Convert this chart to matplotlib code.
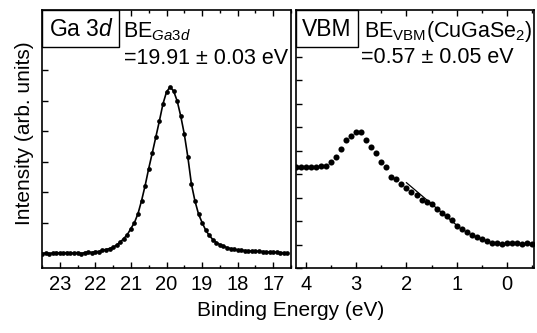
import matplotlib
matplotlib.use("Agg")
import matplotlib.pyplot as plt
from matplotlib.ticker import MultipleLocator
from matplotlib.patches import Rectangle

plt.rcParams['font.family'] = ['Liberation Sans', 'DejaVu Sans']
plt.rcParams['mathtext.fontset'] = 'custom'
plt.rcParams['mathtext.rm'] = 'Liberation Sans'
plt.rcParams['mathtext.it'] = 'Liberation Sans:italic'
plt.rcParams['mathtext.bf'] = 'Liberation Sans:bold'

# ---- Ga 3d core level (binding energy in eV, intensity arb. units) ----
ga_energy = [23.5, 23.4, 23.3, 23.2, 23.1, 23.0, 22.9, 22.8, 22.7, 22.6,
             22.5, 22.4, 22.3, 22.2, 22.1, 22.0, 21.9, 21.8, 21.7, 21.6,
             21.5, 21.4, 21.3, 21.2, 21.1, 21.0, 20.9, 20.8, 20.7, 20.6,
             20.5, 20.4, 20.3, 20.2, 20.1, 20.0, 19.9, 19.8, 19.7, 19.6,
             19.5, 19.4, 19.3, 19.2, 19.1, 19.0, 18.9, 18.8, 18.7, 18.6,
             18.5, 18.4, 18.3, 18.2, 18.1, 18.0, 17.9, 17.8, 17.7, 17.6,
             17.5, 17.4, 17.3, 17.2, 17.1, 17.0, 16.9, 16.8, 16.7, 16.6]
ga_intensity = [-0.5, 0.0, -0.5, 0.0, 0.5, 0.0, 0.0, 0.5, 0.0, 0.0,
                0.5, -0.5, 0.5, 1.0, 0.5, 1.5, 1.5, 3.0, 3.5, 4.5,
                5.7, 8.0, 11.0, 14.5, 18.5, 24.5, 30.5, 39.5, 52.5, 67.5,
                84.5, 100.0, 116.0, 132.0, 149.0, 161.0, 166.0, 162.0, 152.0, 137.0,
                119.0, 96.0, 69.0, 52.0, 39.0, 30.5, 23.0, 17.7, 13.5, 10.5,
                8.5, 6.8, 5.5, 4.5, 3.7, 3.0, 2.7, 2.5, 2.2, 2.0,
                2.0, 1.7, 1.5, 1.2, 1.0, 0.8, 0.7, 0.5, 0.2, 0.0]

# ---- Valence band maximum ----
vb_energy = [4.2, 4.1, 4.0, 3.9, 3.8, 3.7, 3.6, 3.5, 3.4, 3.3,
             3.2, 3.1, 3.0, 2.9, 2.8, 2.7, 2.6, 2.5, 2.4, 2.3,
             2.2, 2.1, 2.0, 1.9, 1.8, 1.7, 1.6, 1.5, 1.4, 1.3,
             1.2, 1.1, 1.0, 0.9, 0.8, 0.7, 0.6, 0.5, 0.4, 0.3,
             0.2, 0.1, 0.0, -0.1, -0.2, -0.3, -0.4, -0.5]
vb_intensity = [77.2, 77.8, 77.2, 77.5, 77.2, 78.5, 78.8, 82.8, 87.8, 95.2,
                104.5, 108.5, 112.2, 112.2, 104.5, 97.2, 91.2, 82.5, 77.2, 67.2,
                65.2, 60.5, 56.2, 52.2, 49.2, 44.5, 42.8, 40.2, 35.2, 31.2,
                28.5, 24.5, 18.5, 15.8, 12.2, 9.5, 7.2, 5.2, 3.5, 1.8,
                1.5, 0.8, 1.8, 1.8, 1.2, 0.5, 1.2, 0.2]
# linear extrapolation of the leading edge
vb_fit_energy = [2.0, 1.0]
vb_fit_intensity = [61.8, 19.3]

ga_xticks = [23, 22, 21, 20, 19, 18, 17]
vb_xticks = [4, 3, 2, 1, 0]

W, H = 537, 333
fig = plt.figure(figsize=(W / 100, H / 100), dpi=100)

def fx(px):
    return px / W

def fy(py):
    return 1 - py / H

ax1 = fig.add_axes([fx(42), fy(268), fx(291) - fx(42), fy(10) - fy(268)])
ax2 = fig.add_axes([fx(296), fy(268), fx(534) - fx(296), fy(10) - fy(268)])

ax1.plot(ga_energy, ga_intensity, color='black', lw=1.2, marker='o',
         markersize=3.4, markeredgewidth=0)
ax2.plot(vb_energy, vb_intensity, linestyle='none', color='black', marker='o',
         markersize=4.4, markeredgewidth=0)
ax2.plot(vb_fit_energy, vb_fit_intensity, color='black', lw=0.9)

ax1.set_xlim(23.5, 16.5)
ax1.set_ylim(-15, 243)
ax2.set_xlim(4.2, -0.54)
ax2.set_ylim(-23.5, 234.5)

ax1.set_xticks(ga_xticks)
ax2.set_xticks(vb_xticks)
ax1.yaxis.set_major_locator(MultipleLocator(30.5))
ax2.yaxis.set_major_locator(MultipleLocator(23.5))
for ax in (ax1, ax2):
    ax.xaxis.set_minor_locator(MultipleLocator(0.5))
    ax.tick_params(which='both', direction='in', top=True, right=False,
                   labelleft=False, width=1.0)
    ax.tick_params(which='major', length=4.4, labelsize=14.5, pad=5)
    ax.tick_params(which='minor', length=2.3)
    for s in ax.spines.values():
        s.set_linewidth(1.2)

# label boxes
ax1.add_patch(Rectangle((0, (268 - 47) / 258), (119 - 42) / 249, 1 - (268 - 47) / 258,
                        transform=ax1.transAxes, facecolor='white',
                        edgecolor='black', lw=1.0, zorder=5, clip_on=False))
ax2.add_patch(Rectangle((0, (268 - 47) / 258), (358 - 296) / 238, 1 - (268 - 47) / 258,
                        transform=ax2.transAxes, facecolor='white',
                        edgecolor='black', lw=1.0, zorder=5, clip_on=False))

fs = 15.5
fig.text(fx(81), fy(36), r"Ga $\mathit{3d}$", fontsize=16.5, ha='center', va='baseline', zorder=10)
fig.text(fx(327), fy(36), "VBM", fontsize=16.5, ha='center', va='baseline', zorder=10)
fig.text(fx(123), fy(37), r"BE$_{\mathit{Ga3d}}$", fontsize=fs, ha='left', va='baseline')
fig.text(fx(124), fy(64), "=19.91 \u00b1 0.03 eV", fontsize=fs, ha='left', va='baseline')
fig.text(fx(364), fy(37), r"BE$_{\mathrm{VBM}}$(CuGaSe$_{2}$)", fontsize=fs, ha='left', va='baseline')
fig.text(fx(361), fy(63), "=0.57 \u00b1 0.05 eV", fontsize=fs, ha='left', va='baseline')

fig.text(fx(291), fy(316), "Binding Energy (eV)", fontsize=15, ha='center', va='baseline')
fig.text(fx(25), fy(133), "Intensity (arb. units)", fontsize=15, ha='center', va='center',
         rotation=90)

fig.savefig("out.png", dpi=100)
